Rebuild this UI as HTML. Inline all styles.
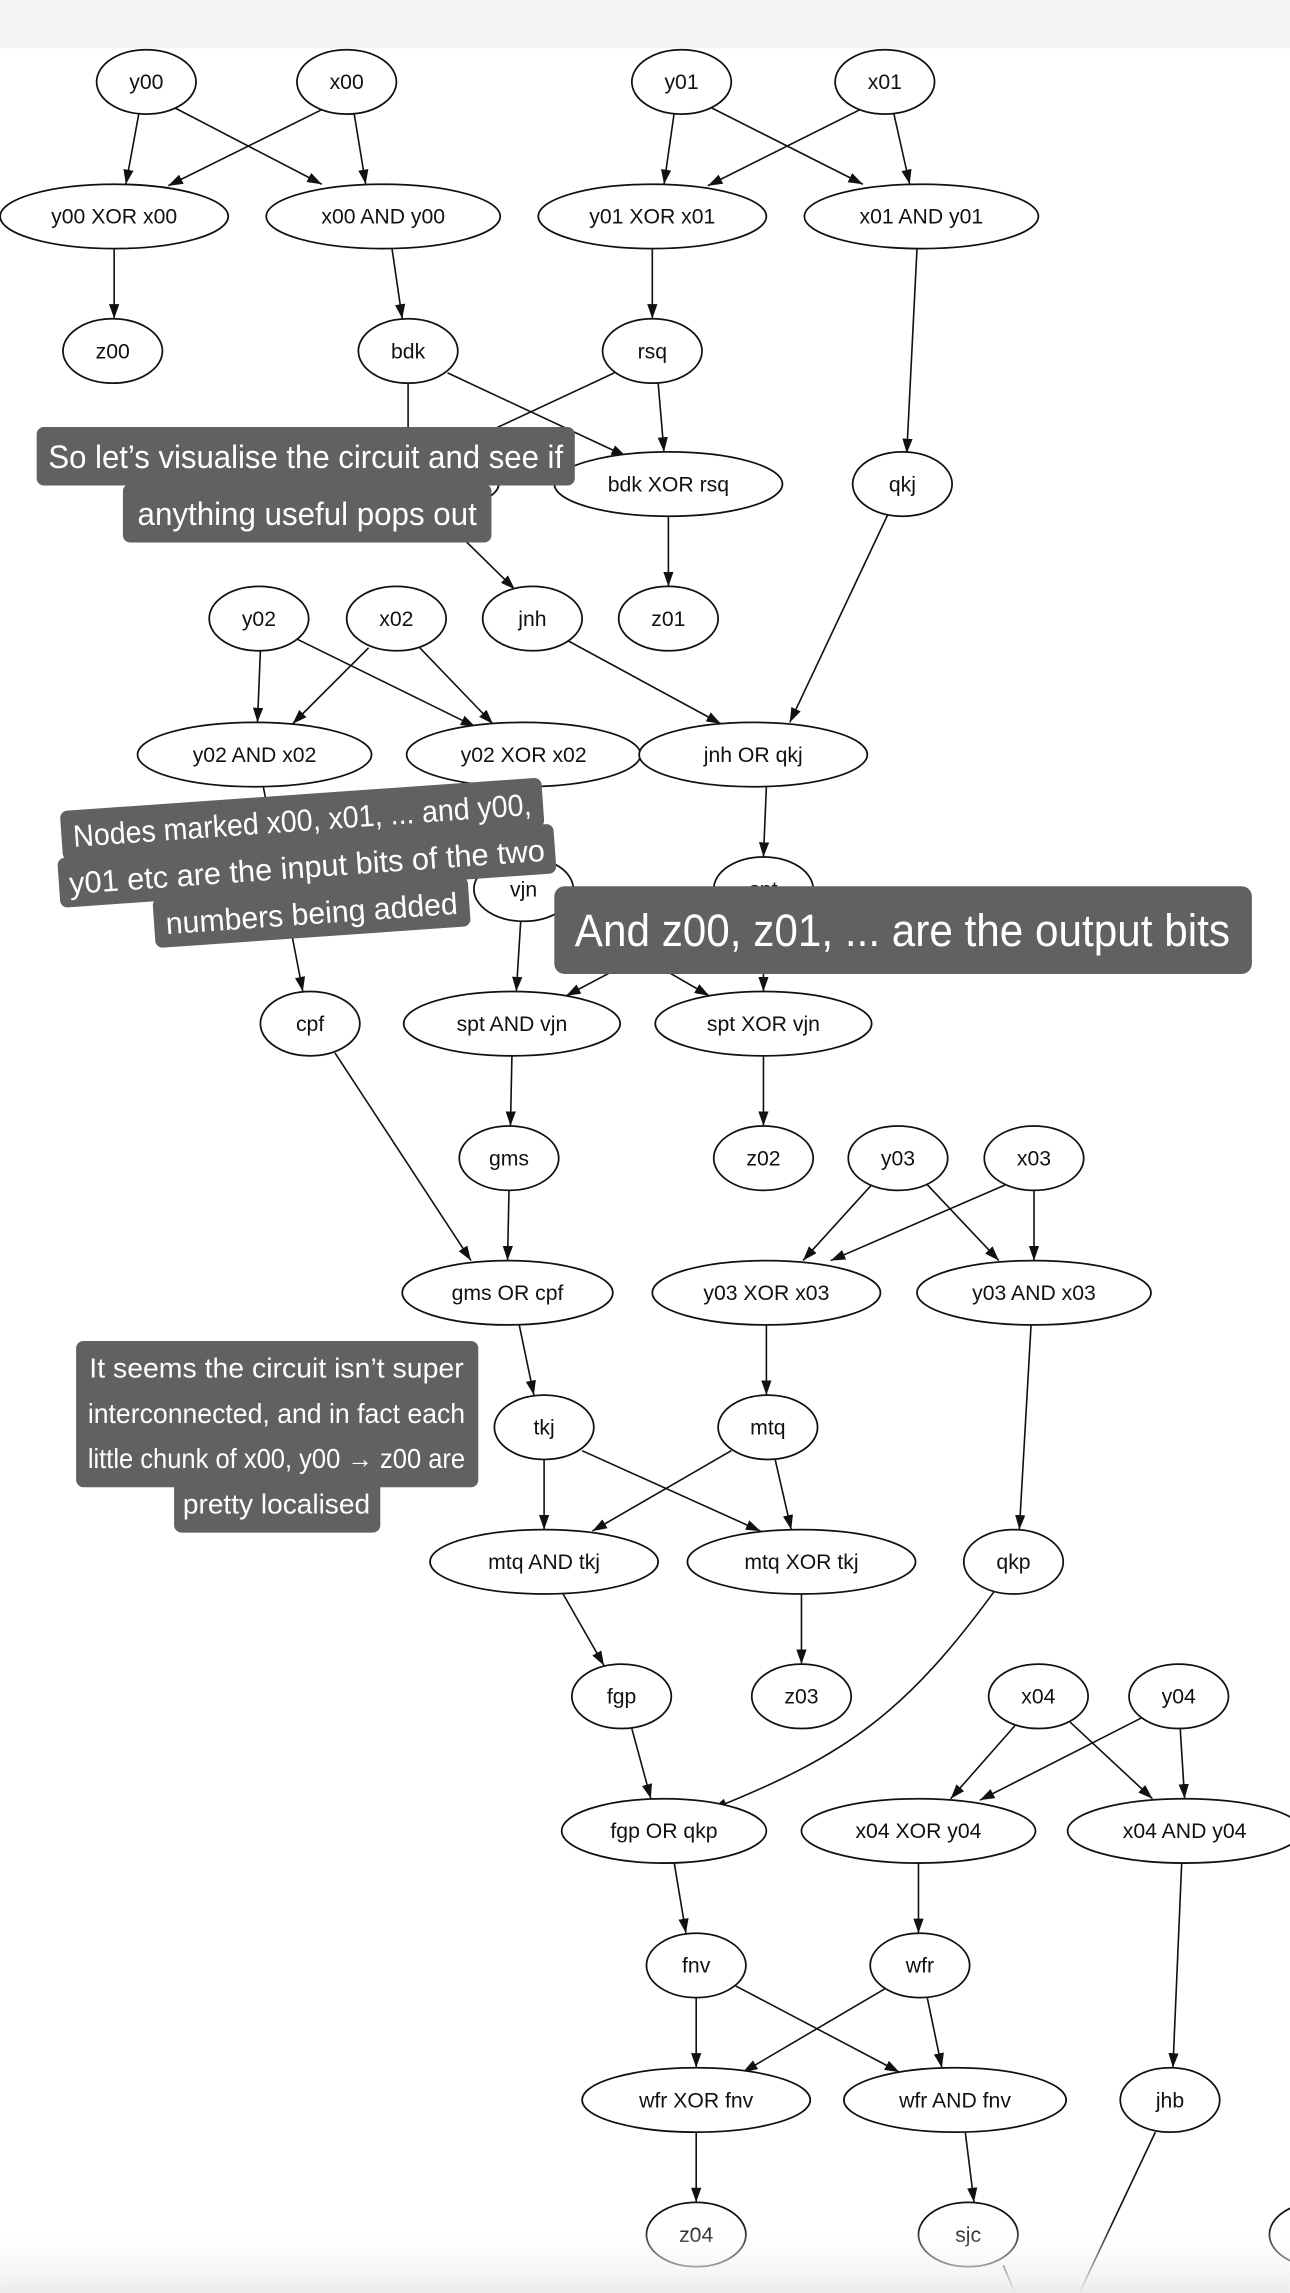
<!DOCTYPE html>
<html><head><meta charset="utf-8"><style>
html,body{margin:0;padding:0;background:#fff;}
svg{display:block;}
.n{fill:#fff;stroke:#111;stroke-width:1.2}
.t{font-family:"Liberation Sans",sans-serif;font-size:14.5px;fill:#111;text-anchor:middle}
.e{stroke:#111;stroke-width:1.1;fill:none}
.b{fill:#616161}
.bt{font-family:"Liberation Sans",sans-serif;fill:#fff;text-anchor:middle}
</style></head><body>
<svg width="1290" height="2293" viewBox="0 0 882 1568" xmlns="http://www.w3.org/2000/svg">
<defs>
<marker id="a" viewBox="0 0 10 10" refX="10" refY="5" markerWidth="10" markerHeight="10" markerUnits="userSpaceOnUse" orient="auto"><path d="M0,1.5 L10,5 L0,8.5 z" fill="#111"/></marker>
<linearGradient id="g" x1="0" y1="0" x2="0" y2="1"><stop offset="0" stop-color="#fff" stop-opacity="0"/><stop offset="1" stop-color="#ececec"/></linearGradient>
</defs>
<rect x="0" y="0" width="882" height="33" fill="#f4f3f2"/>
<g class="e" marker-end="url(#a)">
<line x1="95" y1="77" x2="86" y2="126"/><line x1="118" y1="73" x2="220" y2="126"/><line x1="222" y1="74" x2="115" y2="127"/><line x1="242" y1="77" x2="250" y2="126"/>
<line x1="461" y1="77" x2="454" y2="126"/><line x1="485" y1="73" x2="590" y2="126"/><line x1="590" y1="74" x2="484" y2="127"/><line x1="611" y1="77" x2="622" y2="126"/>
<line x1="78" y1="170" x2="78" y2="218"/><line x1="268" y1="170" x2="275" y2="218"/><line x1="446" y1="170" x2="446" y2="218"/><line x1="627" y1="170" x2="620" y2="310"/>
<line x1="279" y1="262" x2="279" y2="309"/><line x1="306" y1="255" x2="428" y2="312"/><line x1="420" y1="255" x2="300" y2="311"/><line x1="450" y1="262" x2="454" y2="309"/>
<line x1="300" y1="352" x2="352" y2="403"/><line x1="457" y1="353" x2="457" y2="401"/><line x1="607" y1="352" x2="540" y2="494"/><line x1="388" y1="438" x2="493" y2="495"/>
<line x1="178" y1="445" x2="176" y2="494"/><line x1="203" y1="437" x2="325" y2="497"/><line x1="252" y1="443" x2="200" y2="495"/><line x1="287" y1="443" x2="337" y2="495"/>
<line x1="180" y1="538" x2="207" y2="678"/><line x1="524" y1="538" x2="522" y2="586"/><line x1="358" y1="538" x2="358" y2="586"/>
<line x1="356" y1="630" x2="353" y2="678"/><line x1="383" y1="622" x2="485" y2="681"/><line x1="497" y1="623" x2="387" y2="681"/><line x1="522" y1="630" x2="522" y2="678"/>
<line x1="350" y1="722" x2="349" y2="770"/><line x1="522" y1="722" x2="522" y2="770"/><line x1="229" y1="720" x2="322" y2="862"/><line x1="348" y1="814" x2="347" y2="862"/>
<line x1="598" y1="808" x2="549" y2="862"/><line x1="632" y1="808" x2="683" y2="862"/><line x1="688" y1="810" x2="568" y2="862"/><line x1="707" y1="814" x2="707" y2="862"/>
<line x1="355" y1="906" x2="365" y2="954"/><line x1="524" y1="906" x2="524" y2="954"/><line x1="705" y1="906" x2="697" y2="1046"/>
<line x1="372" y1="998" x2="372" y2="1046"/><line x1="398" y1="992" x2="520" y2="1047"/><line x1="500" y1="992" x2="405" y2="1047"/><line x1="530" y1="998" x2="541" y2="1046"/>
<line x1="385" y1="1090" x2="413" y2="1139"/><line x1="548" y1="1090" x2="548" y2="1138"/>
<path d="M680,1088 C620,1170 580,1200 487,1237"/><line x1="432" y1="1182" x2="445" y2="1230"/>
<line x1="694" y1="1180" x2="650" y2="1230"/><line x1="731" y1="1177" x2="788" y2="1230"/><line x1="782" y1="1174" x2="670" y2="1231"/><line x1="807" y1="1182" x2="810" y2="1230"/>
<line x1="461" y1="1274" x2="469" y2="1322"/><line x1="628" y1="1274" x2="628" y2="1322"/><line x1="808" y1="1274" x2="802" y2="1414"/>
<line x1="476" y1="1366" x2="476" y2="1414"/><line x1="503" y1="1358" x2="615" y2="1417"/><line x1="605" y1="1360" x2="508" y2="1417"/><line x1="634" y1="1366" x2="644" y2="1414"/>
<line x1="476" y1="1458" x2="476" y2="1506"/><line x1="660" y1="1458" x2="666" y2="1506"/>
</g>
<g class="e"><line x1="686" y1="1549" x2="694" y2="1568"/><line x1="790" y1="1458" x2="738" y2="1568"/></g>
<g>
<ellipse class="n" cx="100" cy="56" rx="34" ry="22"/><text class="t" x="100" y="61">y00</text>
<ellipse class="n" cx="237" cy="56" rx="34" ry="22"/><text class="t" x="237" y="61">x00</text>
<ellipse class="n" cx="466" cy="56" rx="34" ry="22"/><text class="t" x="466" y="61">y01</text>
<ellipse class="n" cx="605" cy="56" rx="34" ry="22"/><text class="t" x="605" y="61">x01</text>
<ellipse class="n" cx="78" cy="148" rx="78" ry="22"/><text class="t" x="78" y="153">y00 XOR x00</text>
<ellipse class="n" cx="262" cy="148" rx="80" ry="22"/><text class="t" x="262" y="153">x00 AND y00</text>
<ellipse class="n" cx="446" cy="148" rx="78" ry="22"/><text class="t" x="446" y="153">y01 XOR x01</text>
<ellipse class="n" cx="630" cy="148" rx="80" ry="22"/><text class="t" x="630" y="153">x01 AND y01</text>
<ellipse class="n" cx="77" cy="240" rx="34" ry="22"/><text class="t" x="77" y="245">z00</text>
<ellipse class="n" cx="279" cy="240" rx="34" ry="22"/><text class="t" x="279" y="245">bdk</text>
<ellipse class="n" cx="446" cy="240" rx="34" ry="22"/><text class="t" x="446" y="245">rsq</text>
<ellipse class="n" cx="263" cy="331" rx="78" ry="22"/><text class="t" x="263" y="336">rsq AND bdk</text>
<ellipse class="n" cx="457" cy="331" rx="78" ry="22"/><text class="t" x="457" y="336">bdk XOR rsq</text>
<ellipse class="n" cx="617" cy="331" rx="34" ry="22"/><text class="t" x="617" y="336">qkj</text>
<ellipse class="n" cx="364" cy="423" rx="34" ry="22"/><text class="t" x="364" y="428">jnh</text>
<ellipse class="n" cx="457" cy="423" rx="34" ry="22"/><text class="t" x="457" y="428">z01</text>
<ellipse class="n" cx="177" cy="423" rx="34" ry="22"/><text class="t" x="177" y="428">y02</text>
<ellipse class="n" cx="271" cy="423" rx="34" ry="22"/><text class="t" x="271" y="428">x02</text>
<ellipse class="n" cx="174" cy="516" rx="80" ry="22"/><text class="t" x="174" y="521">y02 AND x02</text>
<ellipse class="n" cx="358" cy="516" rx="80" ry="22"/><text class="t" x="358" y="521">y02 XOR x02</text>
<ellipse class="n" cx="515" cy="516" rx="78" ry="22"/><text class="t" x="515" y="521">jnh OR qkj</text>
<ellipse class="n" cx="358" cy="608" rx="34" ry="22"/><text class="t" x="358" y="613">vjn</text>
<ellipse class="n" cx="522" cy="608" rx="34" ry="22"/><text class="t" x="522" y="613">spt</text>
<ellipse class="n" cx="212" cy="700" rx="34" ry="22"/><text class="t" x="212" y="705">cpf</text>
<ellipse class="n" cx="350" cy="700" rx="74" ry="22"/><text class="t" x="350" y="705">spt AND vjn</text>
<ellipse class="n" cx="522" cy="700" rx="74" ry="22"/><text class="t" x="522" y="705">spt XOR vjn</text>
<ellipse class="n" cx="348" cy="792" rx="34" ry="22"/><text class="t" x="348" y="797">gms</text>
<ellipse class="n" cx="522" cy="792" rx="34" ry="22"/><text class="t" x="522" y="797">z02</text>
<ellipse class="n" cx="614" cy="792" rx="34" ry="22"/><text class="t" x="614" y="797">y03</text>
<ellipse class="n" cx="707" cy="792" rx="34" ry="22"/><text class="t" x="707" y="797">x03</text>
<ellipse class="n" cx="347" cy="884" rx="72" ry="22"/><text class="t" x="347" y="889">gms OR cpf</text>
<ellipse class="n" cx="524" cy="884" rx="78" ry="22"/><text class="t" x="524" y="889">y03 XOR x03</text>
<ellipse class="n" cx="707" cy="884" rx="80" ry="22"/><text class="t" x="707" y="889">y03 AND x03</text>
<ellipse class="n" cx="372" cy="976" rx="34" ry="22"/><text class="t" x="372" y="981">tkj</text>
<ellipse class="n" cx="525" cy="976" rx="34" ry="22"/><text class="t" x="525" y="981">mtq</text>
<ellipse class="n" cx="372" cy="1068" rx="78" ry="22"/><text class="t" x="372" y="1073">mtq AND tkj</text>
<ellipse class="n" cx="548" cy="1068" rx="78" ry="22"/><text class="t" x="548" y="1073">mtq XOR tkj</text>
<ellipse class="n" cx="693" cy="1068" rx="34" ry="22"/><text class="t" x="693" y="1073">qkp</text>
<ellipse class="n" cx="425" cy="1160" rx="34" ry="22"/><text class="t" x="425" y="1165">fgp</text>
<ellipse class="n" cx="548" cy="1160" rx="34" ry="22"/><text class="t" x="548" y="1165">z03</text>
<ellipse class="n" cx="710" cy="1160" rx="34" ry="22"/><text class="t" x="710" y="1165">x04</text>
<ellipse class="n" cx="806" cy="1160" rx="34" ry="22"/><text class="t" x="806" y="1165">y04</text>
<ellipse class="n" cx="454" cy="1252" rx="70" ry="22"/><text class="t" x="454" y="1257">fgp OR qkp</text>
<ellipse class="n" cx="628" cy="1252" rx="80" ry="22"/><text class="t" x="628" y="1257">x04 XOR y04</text>
<ellipse class="n" cx="810" cy="1252" rx="80" ry="22"/><text class="t" x="810" y="1257">x04 AND y04</text>
<ellipse class="n" cx="476" cy="1344" rx="34" ry="22"/><text class="t" x="476" y="1349">fnv</text>
<ellipse class="n" cx="629" cy="1344" rx="34" ry="22"/><text class="t" x="629" y="1349">wfr</text>
<ellipse class="n" cx="476" cy="1436" rx="78" ry="22"/><text class="t" x="476" y="1441">wfr XOR fnv</text>
<ellipse class="n" cx="653" cy="1436" rx="76" ry="22"/><text class="t" x="653" y="1441">wfr AND fnv</text>
<ellipse class="n" cx="800" cy="1436" rx="34" ry="22"/><text class="t" x="800" y="1441">jhb</text>
<ellipse class="n" cx="476" cy="1528" rx="34" ry="22"/><text class="t" x="476" y="1533">z04</text>
<ellipse class="n" cx="662" cy="1528" rx="34" ry="22"/><text class="t" x="662" y="1533">sjc</text>
<ellipse class="n" cx="902" cy="1528" rx="34" ry="22"/>
</g>
<rect x="0" y="1520" width="882" height="48" fill="url(#g)"/>
<!-- banner 1 -->
<rect class="b" x="25" y="292" width="368" height="40" rx="5"/>
<rect class="b" x="84" y="331" width="252" height="40" rx="5"/>
<text class="bt" x="209" y="320" font-size="22" textLength="352" lengthAdjust="spacingAndGlyphs">So let’s visualise the circuit and see if</text>
<text class="bt" x="210" y="359" font-size="22" textLength="232" lengthAdjust="spacingAndGlyphs">anything useful pops out</text>
<!-- banner 2 -->
<g transform="rotate(-4 210 595)">
<rect class="b" x="44" y="543" width="330" height="34" rx="5"/>
<rect class="b" x="40" y="575" width="340" height="34" rx="5"/>
<rect class="b" x="103" y="607" width="216" height="34" rx="5"/>
<text class="bt" x="209" y="568" font-size="21" textLength="314" lengthAdjust="spacingAndGlyphs">Nodes marked x00, x01, ... and y00,</text>
<text class="bt" x="210" y="600" font-size="21" textLength="326" lengthAdjust="spacingAndGlyphs">y01 etc are the input bits of the two</text>
<text class="bt" x="211" y="632" font-size="21" textLength="200" lengthAdjust="spacingAndGlyphs">numbers being added</text>
</g>
<!-- banner 3 -->
<rect class="b" x="379" y="606" width="477" height="60" rx="7"/>
<text class="bt" x="617" y="647" font-size="31" textLength="448" lengthAdjust="spacingAndGlyphs">And z00, z01, ... are the output bits</text>
<!-- banner 4 -->
<rect class="b" x="52" y="917" width="275" height="100" rx="5"/>
<rect class="b" x="119" y="1012" width="141" height="36" rx="5"/>
<text class="bt" x="189" y="942" font-size="19" textLength="256" lengthAdjust="spacingAndGlyphs">It seems the circuit isn’t super</text>
<text class="bt" x="189" y="973" font-size="19" textLength="258" lengthAdjust="spacingAndGlyphs">interconnected, and in fact each</text>
<text class="bt" x="189" y="1004" font-size="19" textLength="258" lengthAdjust="spacingAndGlyphs">little chunk of x00, y00 → z00 are</text>
<text class="bt" x="189" y="1035" font-size="19" textLength="128" lengthAdjust="spacingAndGlyphs">pretty localised</text>
</svg>
</body></html>
